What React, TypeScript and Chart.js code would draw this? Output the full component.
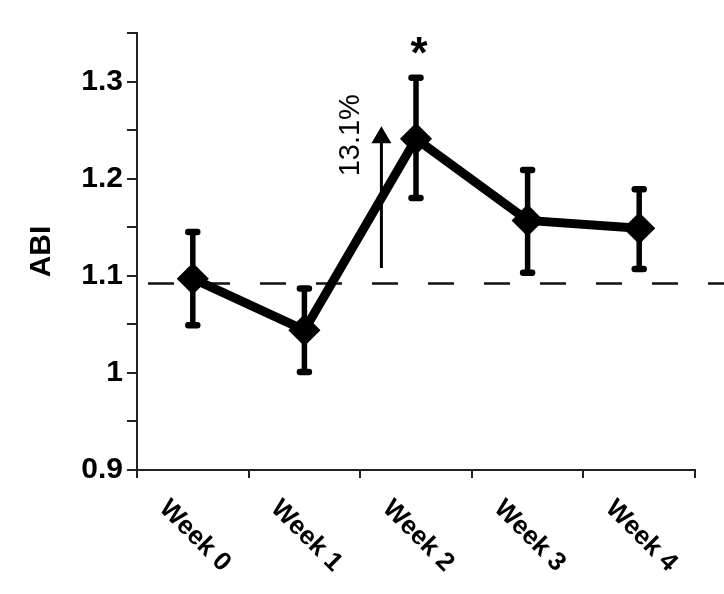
import React, { useEffect, useRef } from 'react';
import { Chart, registerables } from 'chart.js';

Chart.register(...registerables);

const categories = ['Week 0', 'Week 1', 'Week 2', 'Week 3', 'Week 4'];
const abiMean = [1.097, 1.044, 1.241, 1.157, 1.149];
const abiUpper = [1.145, 1.087, 1.304, 1.209, 1.189];
const abiLower = [1.049, 1.001, 1.18, 1.103, 1.107];
const baselineValue = 1.092;
const arrowFrom = 1.108;
const arrowTo = 1.254;
const arrowCategoryPosition = 1.69;
const changeLabel = '13.1%';
const significanceLabel = '*';
const significanceIndex = 2;
const yMin = 0.9;
const yMax = 1.35;
const yStep = 0.05;
const yTitle = 'ABI';

const FONT = "'Liberation Sans', Arial, Helvetica, sans-serif";

const overlayPlugin = {
  id: 'overlay',
  beforeDatasetsDraw(chart: any) {
    const { ctx, chartArea, scales } = chart;
    const x = scales.x;
    const y = scales.y;
    ctx.save();
    // dashed reference line
    const yb = y.getPixelForValue(baselineValue);
    ctx.strokeStyle = '#111';
    ctx.lineWidth = 2.5;
    ctx.setLineDash([26, 30]);
    ctx.beginPath();
    ctx.moveTo(chartArea.left + 11, yb);
    ctx.lineTo(chart.width, yb);
    ctx.stroke();
    ctx.setLineDash([]);
    // error bars
    ctx.strokeStyle = '#000';
    for (let i = 0; i < abiMean.length; i++) {
      const px = x.getPixelForValue(i);
      const pt = y.getPixelForValue(abiUpper[i]);
      const pb = y.getPixelForValue(abiLower[i]);
      ctx.lineWidth = 5.5;
      ctx.lineCap = 'butt';
      ctx.beginPath();
      ctx.moveTo(px, pt);
      ctx.lineTo(px, pb);
      ctx.stroke();
      ctx.lineCap = 'round';
      ctx.lineWidth = 6.5;
      ctx.beginPath();
      ctx.moveTo(px - 4.5, pt);
      ctx.lineTo(px + 4.5, pt);
      ctx.moveTo(px - 4.5, pb);
      ctx.lineTo(px + 4.5, pb);
      ctx.stroke();
    }
    ctx.restore();
  },
  afterDatasetsDraw(chart: any) {
    const { ctx, scales } = chart;
    const x = scales.x;
    const y = scales.y;
    ctx.save();
    // arrow
    const ax = x.getPixelForValue(arrowCategoryPosition);
    const yBottom = y.getPixelForValue(arrowFrom);
    const yTop = y.getPixelForValue(arrowTo);
    ctx.strokeStyle = '#000';
    ctx.fillStyle = '#000';
    ctx.lineWidth = 3;
    ctx.beginPath();
    ctx.moveTo(ax, yBottom);
    ctx.lineTo(ax, yTop + 15);
    ctx.stroke();
    ctx.beginPath();
    ctx.moveTo(ax, yTop);
    ctx.lineTo(ax - 10, yTop + 17);
    ctx.lineTo(ax + 10, yTop + 17);
    ctx.closePath();
    ctx.fill();
    // percentage label
    ctx.save();
    ctx.translate(ax - 30, yTop + 9);
    ctx.rotate(-Math.PI / 2);
    ctx.font = `29px ${FONT}`;
    ctx.textAlign = 'center';
    ctx.textBaseline = 'middle';
    ctx.fillText(changeLabel, 0, 0);
    ctx.restore();
    // significance asterisk
    const sx = x.getPixelForValue(significanceIndex) + 3;
    const sy = y.getPixelForValue(abiUpper[significanceIndex]) - 18;
    ctx.font = `bold 44px ${FONT}`;
    ctx.textAlign = 'center';
    ctx.textBaseline = 'alphabetic';
    ctx.fillText(significanceLabel, sx, sy + 8);
    ctx.restore();
  },
  afterDraw(chart: any) {
    const { ctx, chartArea, scales } = chart;
    const x = scales.x;
    ctx.save();
    ctx.fillStyle = '#000';
    ctx.font = `bold 26px ${FONT}`;
    ctx.textAlign = 'center';
    ctx.textBaseline = 'middle';
    categories.forEach((label, i) => {
      const px = x.getPixelForValue(i);
      ctx.save();
      ctx.translate(px + 2, chartArea.bottom + 66);
      ctx.rotate(Math.PI / 4);
      ctx.fillText(label, 0, 0);
      ctx.restore();
    });
    ctx.restore();
  },
};

export default function App() {
  const canvasRef = useRef<HTMLCanvasElement | null>(null);

  useEffect(() => {
    document.body.style.margin = '0';
    const canvas = canvasRef.current;
    if (!canvas) return;
    const chart = new Chart(canvas, {
      type: 'line',
      data: {
        labels: categories,
        datasets: [
          {
            data: abiMean,
            borderColor: '#000',
            backgroundColor: '#000',
            borderWidth: 9,
            tension: 0,
            pointStyle: 'rectRot',
            pointRadius: 15,
            pointBackgroundColor: '#000',
            pointBorderColor: '#000',
            pointBorderWidth: 1.5,
            clip: false as any,
          },
        ],
      },
      options: {
        responsive: false,
        animation: false,
        devicePixelRatio: 1,
        layout: { padding: { top: 33, right: 29, left: 0, bottom: 0 } },
        plugins: {
          legend: { display: false },
          tooltip: { enabled: false },
        },
        scales: {
          x: {
            type: 'category',
            offset: true,
            afterFit(s: any) {
              s.height = 124;
            },
            border: { display: true, color: '#222', width: 2 },
            grid: {
              offset: true,
              drawOnChartArea: false,
              drawTicks: true,
              tickLength: 8,
              color: '#222',
              lineWidth: 2,
            },
            ticks: { display: false },
          },
          y: {
            min: yMin,
            max: yMax,
            afterFit(s: any) {
              s.width = 137;
            },
            border: { display: true, color: '#222', width: 2 },
            grid: {
              drawOnChartArea: false,
              drawTicks: true,
              tickLength: 10,
              color: '#222',
              lineWidth: 2,
            },
            ticks: {
              stepSize: yStep,
              padding: 4,
              color: '#000',
              font: { family: FONT, size: 30, weight: 'bold' },
              callback(value: any) {
                const v = Number(value);
                const hundredths = Math.round(v * 100);
                if (hundredths % 10 !== 0) return '';
                return String(Math.round(v * 10) / 10);
              },
            },
            title: {
              display: true,
              text: yTitle,
              color: '#000',
              font: { family: FONT, size: 30, weight: 'bold' },
              padding: { top: 24, bottom: 0 },
            },
          },
        },
      },
      plugins: [overlayPlugin],
    });
    return () => chart.destroy();
  }, []);

  return (
    <div style={{ width: 724, height: 594 }}>
      <canvas ref={canvasRef} width={724} height={594} style={{ display: 'block' }} />
    </div>
  );
}
